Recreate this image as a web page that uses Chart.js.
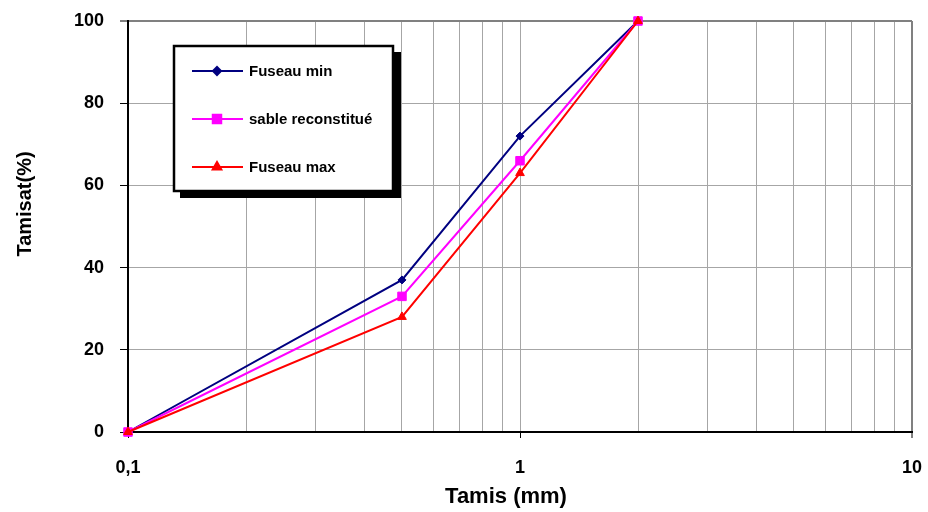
<!DOCTYPE html>
<html>
<head>
<meta charset="utf-8">
<script src="https://cdn.jsdelivr.net/npm/chart.js@4.4.1/dist/chart.umd.min.js"></script>
<style>
  body { margin: 0; background: #fff; }
  #wrap { width: 928px; height: 512px; }
</style>
</head>
<body>
<div id="wrap"><canvas id="courbe" width="928" height="512"></canvas></div>
<script>
// ouvertures des tamis (mm) et pourcentages de tamisat
const tamis = [0.1, 0.5, 1, 2];
const fuseauMin = [0, 37, 72, 100];
const sableReconstitue = [0, 33, 66, 100];
const fuseauMax = [0, 28, 63, 100];

const nomsSeries = ['Fuseau min', 'sable reconstitué', 'Fuseau max'];
const xGraduations = [0.1, 0.2, 0.3, 0.4, 0.5, 0.6, 0.7, 0.8, 0.9,
                      1, 2, 3, 4, 5, 6, 7, 8, 9, 10];
const xEtiquettes = ['0,1', '1', '10'];
const titreX = 'Tamis (mm)';
const titreY = 'Tamisat(%)';

const police = '"Liberation Sans", Arial, sans-serif';

function points(vals) {
    return tamis.map((t, i) => ({ x: t, y: vals[i] }));
}

function estDecade(v) {
    const k = Math.log10(v);
    return Math.abs(k - Math.round(k)) < 1e-6;
}

// pas de marge automatique autour des étiquettes : la zone de tracé est fixée par layout.padding
function sansMarge(scale) {
    scale.paddingTop = 0;
    scale.paddingBottom = 0;
    scale.paddingLeft = 0;
    scale.paddingRight = 0;
}

// encadré de légende avec ombre portée + titres des axes
const habillage = {
    id: 'habillage',
    afterDraw(chart) {
        const ctx = chart.ctx;
        ctx.save();
        ctx.fillStyle = '#000';
        ctx.textAlign = 'center';
        ctx.textBaseline = 'middle';
        ctx.font = 'bold 22px ' + police;
        ctx.fillText(titreX, 506, 497);
        ctx.translate(25, 204);
        ctx.rotate(-Math.PI / 2);
        ctx.font = 'bold 20px ' + police;
        ctx.fillText(titreY, 0, 0);
        ctx.restore();

        ctx.save();
        ctx.fillStyle = '#000';
        ctx.fillRect(180, 52, 221, 146);
        ctx.fillStyle = '#fff';
        ctx.fillRect(174, 46, 219, 145);
        ctx.strokeStyle = '#000';
        ctx.lineWidth = 2.5;
        ctx.strokeRect(174, 46, 219, 145);

        const lignes = [71, 119, 167];
        chart.data.datasets.forEach((ds, i) => {
            const y = lignes[i];
            ctx.strokeStyle = ds.borderColor;
            ctx.lineWidth = 2;
            ctx.beginPath();
            ctx.moveTo(192, y);
            ctx.lineTo(243, y);
            ctx.stroke();
            ctx.fillStyle = ds.pointBackgroundColor;
            ctx.strokeStyle = ds.pointBorderColor;
            Chart.helpers.drawPoint(ctx, {
                pointStyle: ds.pointStyle,
                radius: ds.pointRadius,
                rotation: 0,
                borderWidth: 1
            }, 217, y);
            ctx.fillStyle = '#000';
            ctx.font = 'bold 15px ' + police;
            ctx.textAlign = 'left';
            ctx.textBaseline = 'middle';
            ctx.fillText(ds.label, 249, y + 1);
        });
        ctx.restore();
    }
};

const ctx = document.getElementById('courbe').getContext('2d');
new Chart(ctx, {
    type: 'line',
    data: {
        datasets: [{
            label: nomsSeries[0],
            data: points(fuseauMin),
            borderColor: '#000080',
            pointBackgroundColor: '#000080',
            pointBorderColor: '#000080',
            pointStyle: 'rectRot',
            pointRadius: 4,
            order: 2
        }, {
            label: nomsSeries[1],
            data: points(sableReconstitue),
            borderColor: '#ff00ff',
            pointBackgroundColor: '#ff00ff',
            pointBorderColor: '#ff00ff',
            pointStyle: 'rect',
            pointRadius: 6,
            order: 1
        }, {
            label: nomsSeries[2],
            data: points(fuseauMax),
            borderColor: '#ff0000',
            pointBackgroundColor: '#ff0000',
            pointBorderColor: '#ff0000',
            pointStyle: 'triangle',
            pointRadius: 5,
            order: 0
        }]
    },
    options: {
        responsive: false,
        animation: false,
        clip: false,
        layout: { padding: { left: 0, right: 16, top: 21, bottom: 0 } },
        elements: {
            line: { borderWidth: 2, tension: 0 },
            point: { borderWidth: 1 }
        },
        plugins: {
            legend: { display: false },
            tooltip: { enabled: false }
        },
        scales: {
            x: {
                type: 'logarithmic',
                min: 0.1,
                max: 10,
                afterBuildTicks: axis => {
                    axis.ticks = xGraduations.map(v => ({ value: v }));
                },
                afterFit: scale => { scale.height = 80; sansMarge(scale); },
                border: { color: '#000', width: 2 },
                grid: {
                    color: c => {
                        const v = c.tick.value;
                        if (Math.abs(v - 0.1) < 1e-9) return 'rgba(0,0,0,0)';
                        return Math.abs(v - 10) < 1e-9 ? '#808080' : '#a6a6a6';
                    },
                    lineWidth: c => Math.abs(c.tick.value - 10) < 1e-9 ? 2 : 1,
                    tickColor: c => estDecade(c.tick.value) ? '#000' : 'rgba(0,0,0,0)',
                    tickWidth: 1,
                    tickLength: 6
                },
                ticks: {
                    autoSkip: false,
                    maxRotation: 0,
                    padding: 19,
                    color: '#000',
                    font: { family: police, size: 18, weight: 'bold' },
                    callback: v => estDecade(v) ? xEtiquettes[Math.round(Math.log10(v)) + 1] : ''
                }
            },
            y: {
                min: 0,
                max: 100,
                afterFit: scale => { scale.width = 128; sansMarge(scale); },
                border: { color: '#000', width: 2 },
                grid: {
                    color: c => c.tick.value === 0 ? 'rgba(0,0,0,0)'
                        : (c.tick.value === 100 ? '#808080' : '#a6a6a6'),
                    lineWidth: c => c.tick.value === 100 ? 2 : 1,
                    tickColor: '#000',
                    tickWidth: 1,
                    tickLength: 8
                },
                ticks: {
                    stepSize: 20,
                    padding: 16,
                    color: '#000',
                    font: { family: police, size: 18, weight: 'bold' }
                }
            }
        }
    },
    plugins: [habillage]
});
</script>
</body>
</html>
